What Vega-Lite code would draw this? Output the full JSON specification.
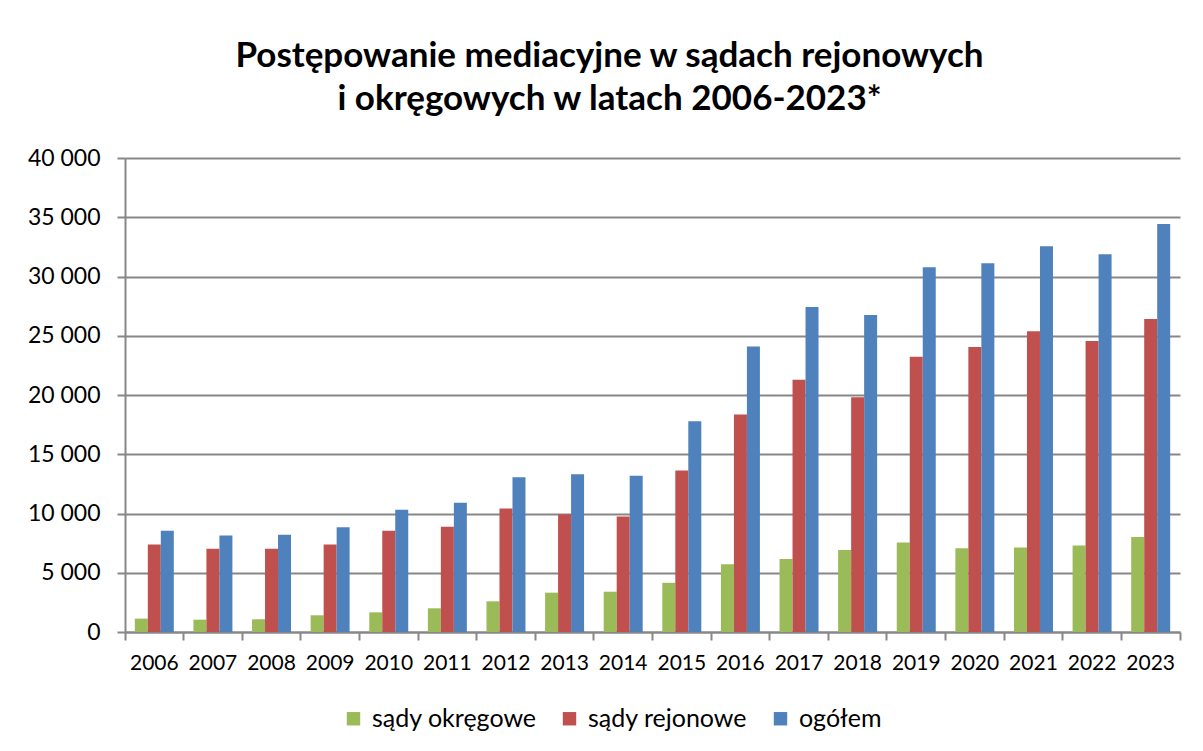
{
  "$schema": "https://vega.github.io/schema/vega-lite/v6.json",
  "width": 1055,
  "height": 474,
  "autosize": {"type": "none"},
  "padding": {"left": 125, "top": 158, "right": 23, "bottom": 119},
  "background": "white",
  "config": {
    "locale": {"number": {"decimal": ",", "thousands": " ", "grouping": [3], "currency": ["", ""]}},
    "view": {"stroke": null},
    "font": "Lato"
  },
  "title": {
    "text": ["Postępowanie mediacyjne w sądach rejonowych", "i okręgowych w latach 2006-2023*"],
    "font": "Lato",
    "fontSize": 35,
    "fontWeight": "bold",
    "color": "#000000",
    "anchor": "middle",
    "frame": "group",
    "dx": -43,
    "offset": 30,
    "lineHeight": 43
  },
  "data": {
    "values": [
      {"rok": "2006", "kategoria": "sądy okręgowe", "liczba": 1130},
      {"rok": "2006", "kategoria": "sądy rejonowe", "liczba": 7390},
      {"rok": "2006", "kategoria": "ogółem", "liczba": 8540},
      {"rok": "2007", "kategoria": "sądy okręgowe", "liczba": 1040},
      {"rok": "2007", "kategoria": "sądy rejonowe", "liczba": 7030},
      {"rok": "2007", "kategoria": "ogółem", "liczba": 8150},
      {"rok": "2008", "kategoria": "sądy okręgowe", "liczba": 1070},
      {"rok": "2008", "kategoria": "sądy rejonowe", "liczba": 7030},
      {"rok": "2008", "kategoria": "ogółem", "liczba": 8200},
      {"rok": "2009", "kategoria": "sądy okręgowe", "liczba": 1410},
      {"rok": "2009", "kategoria": "sądy rejonowe", "liczba": 7390},
      {"rok": "2009", "kategoria": "ogółem", "liczba": 8850},
      {"rok": "2010", "kategoria": "sądy okręgowe", "liczba": 1660},
      {"rok": "2010", "kategoria": "sądy rejonowe", "liczba": 8540},
      {"rok": "2010", "kategoria": "ogółem", "liczba": 10310},
      {"rok": "2011", "kategoria": "sądy okręgowe", "liczba": 2000},
      {"rok": "2011", "kategoria": "sądy rejonowe", "liczba": 8880},
      {"rok": "2011", "kategoria": "ogółem", "liczba": 10900},
      {"rok": "2012", "kategoria": "sądy okręgowe", "liczba": 2590},
      {"rok": "2012", "kategoria": "sądy rejonowe", "liczba": 10420},
      {"rok": "2012", "kategoria": "ogółem", "liczba": 13060},
      {"rok": "2013", "kategoria": "sądy okręgowe", "liczba": 3320},
      {"rok": "2013", "kategoria": "sądy rejonowe", "liczba": 9940},
      {"rok": "2013", "kategoria": "ogółem", "liczba": 13310},
      {"rok": "2014", "kategoria": "sądy okręgowe", "liczba": 3400},
      {"rok": "2014", "kategoria": "sądy rejonowe", "liczba": 9750},
      {"rok": "2014", "kategoria": "ogółem", "liczba": 13180},
      {"rok": "2015", "kategoria": "sądy okręgowe", "liczba": 4150},
      {"rok": "2015", "kategoria": "sądy rejonowe", "liczba": 13620},
      {"rok": "2015", "kategoria": "ogółem", "liczba": 17780},
      {"rok": "2016", "kategoria": "sądy okręgowe", "liczba": 5710},
      {"rok": "2016", "kategoria": "sądy rejonowe", "liczba": 18350},
      {"rok": "2016", "kategoria": "ogółem", "liczba": 24090},
      {"rok": "2017", "kategoria": "sądy okręgowe", "liczba": 6160},
      {"rok": "2017", "kategoria": "sądy rejonowe", "liczba": 21290},
      {"rok": "2017", "kategoria": "ogółem", "liczba": 27420},
      {"rok": "2018", "kategoria": "sądy okręgowe", "liczba": 6920},
      {"rok": "2018", "kategoria": "sądy rejonowe", "liczba": 19800},
      {"rok": "2018", "kategoria": "ogółem", "liczba": 26750},
      {"rok": "2019", "kategoria": "sądy okręgowe", "liczba": 7560},
      {"rok": "2019", "kategoria": "sądy rejonowe", "liczba": 23220},
      {"rok": "2019", "kategoria": "ogółem", "liczba": 30780},
      {"rok": "2020", "kategoria": "sądy okręgowe", "liczba": 7060},
      {"rok": "2020", "kategoria": "sądy rejonowe", "liczba": 24060},
      {"rok": "2020", "kategoria": "ogółem", "liczba": 31120},
      {"rok": "2021", "kategoria": "sądy okręgowe", "liczba": 7140},
      {"rok": "2021", "kategoria": "sądy rejonowe", "liczba": 25380},
      {"rok": "2021", "kategoria": "ogółem", "liczba": 32550},
      {"rok": "2022", "kategoria": "sądy okręgowe", "liczba": 7310},
      {"rok": "2022", "kategoria": "sądy rejonowe", "liczba": 24560},
      {"rok": "2022", "kategoria": "ogółem", "liczba": 31880},
      {"rok": "2023", "kategoria": "sądy okręgowe", "liczba": 8010},
      {"rok": "2023", "kategoria": "sądy rejonowe", "liczba": 26410},
      {"rok": "2023", "kategoria": "ogółem", "liczba": 34430}
    ]
  },
  "mark": {"type": "bar"},
  "encoding": {
    "x": {
      "field": "rok",
      "type": "nominal",
      "scale": {"paddingInner": 0, "paddingOuter": 0},
      "axis": {
        "title": null,
        "labelAngle": 0,
        "labelFont": "Lato",
        "labelFontSize": 21,
        "labelColor": "#000000",
        "labelPadding": 12,
        "bandPosition": 1,
        "tickExtra": true,
        "tickSize": 8,
        "tickColor": "#878787",
        "tickWidth": 2,
        "domainColor": "#878787",
        "domainWidth": 2,
        "grid": false
      }
    },
    "xOffset": {
      "field": "kategoria",
      "type": "nominal",
      "sort": ["sądy okręgowe", "sądy rejonowe", "ogółem"],
      "scale": {"paddingInner": 0, "paddingOuter": 0.755}
    },
    "y": {
      "field": "liczba",
      "type": "quantitative",
      "scale": {"domain": [0, 40000], "nice": false},
      "axis": {
        "title": null,
        "values": [0, 5000, 10000, 15000, 20000, 25000, 30000, 35000, 40000],
        "format": ",d",
        "labelFont": "Lato",
        "labelFontSize": 23,
        "labelColor": "#000000",
        "labelPadding": 17,
        "tickSize": 8,
        "tickColor": "#878787",
        "tickWidth": 2,
        "domainColor": "#878787",
        "domainWidth": 2,
        "grid": true,
        "gridColor": "#878787",
        "gridWidth": 2
      }
    },
    "color": {
      "field": "kategoria",
      "type": "nominal",
      "sort": ["sądy okręgowe", "sądy rejonowe", "ogółem"],
      "scale": {"domain": ["sądy okręgowe", "sądy rejonowe", "ogółem"], "range": ["#9BBB59", "#C0504D", "#4F81BD"]},
      "legend": {
        "title": null,
        "orient": "none",
        "direction": "horizontal",
        "legendX": 216,
        "legendY": 548,
        "symbolType": "square",
        "symbolSize": 180,
        "symbolStrokeWidth": 0,
        "labelFont": "Lato",
        "labelFontSize": 25,
        "labelLimit": 400,
        "labelColor": "#000000",
        "labelOffset": 6,
        "columnPadding": 20
      }
    }
  }
}
